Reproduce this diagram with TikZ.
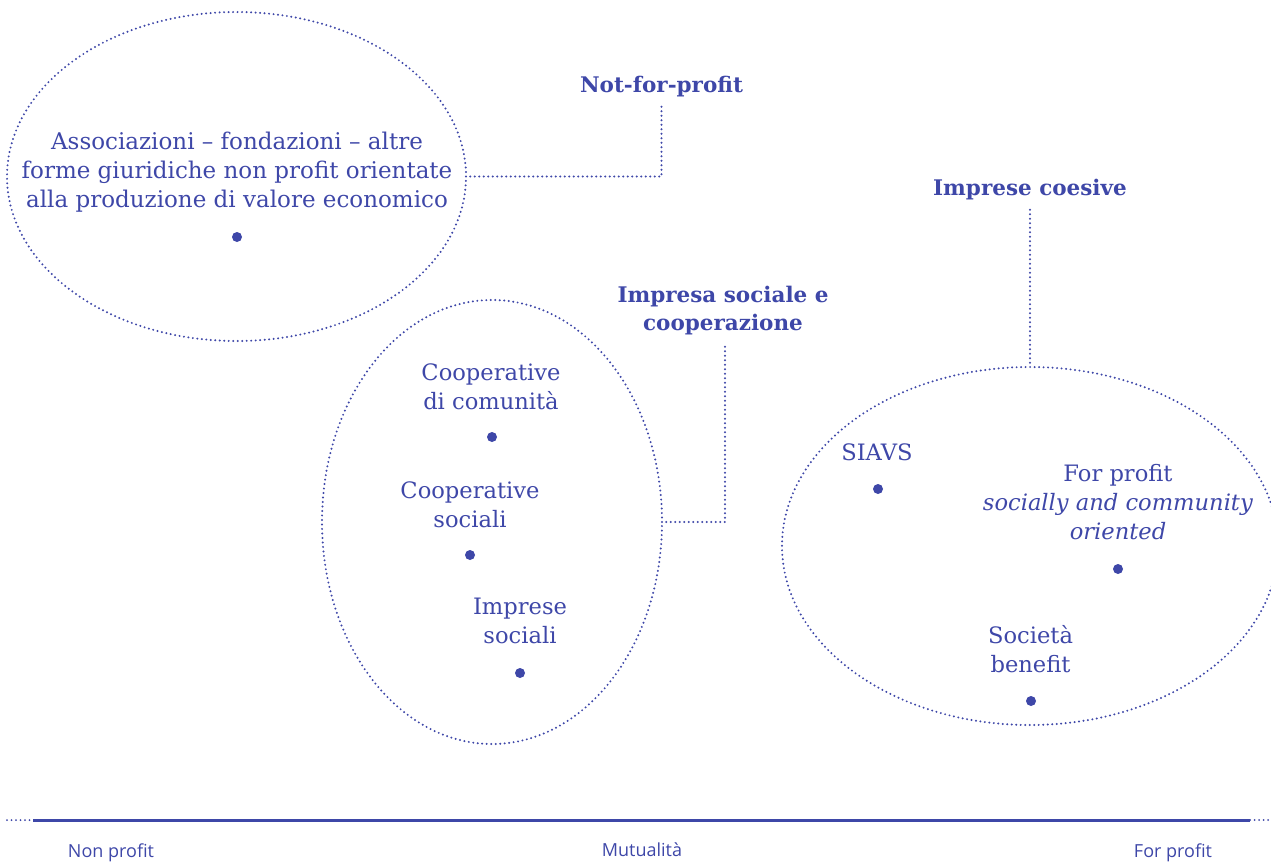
\documentclass[tikz,border=0pt]{standalone}
\usepackage{fontspec}
\setmainfont{DejaVu Serif}
\setsansfont{Open Sans}
\usetikzlibrary{shapes.geometric}
\definecolor{ink}{RGB}{62,71,168}
\begin{document}
\begin{tikzpicture}[x=1pt,y=-1pt,
  dotline/.style={draw=ink, line width=2.2pt, dash pattern=on 0pt off 4.5pt, line cap=round},
  blob/.style={ellipse, dotline, inner sep=0pt, outer sep=0pt},
  txt/.style={text=ink, font=\fontsize{22.6}{29}\selectfont, align=center, inner sep=0pt, anchor=base},
  head/.style={txt, font=\fontsize{21.5}{28}\selectfont\bfseries},
  axislbl/.style={text=ink, font=\sffamily\fontsize{18}{22}\selectfont, inner sep=0pt, anchor=base},
  pt/.style={circle, fill=ink, inner sep=0pt, minimum size=10pt}]
\useasboundingbox (0,0) rectangle (1271,862);
\clip (0,0) rectangle (1271,862);

% ellipses
\node[blob, minimum width=459pt, minimum height=329pt] (e1) at (236.5,176.5) {};
\node[blob, minimum width=340pt, minimum height=444pt] (e2) at (492,522) {};
\node[blob, minimum width=496pt, minimum height=358pt] (e3) at (1030,546) {};

% texts and points (base anchor = baseline of the last line)
\node[txt, font=\fontsize{23}{29}\selectfont] (t1) at (237,207) {Associazioni – fondazioni – altre\\forme giuridiche non profit orientate\\alla produzione di valore economico};
\node[pt] (d1) at (237,237) {};

\node[txt] (t2) at (491,409) {Cooperative\\di comunità};
\node[pt] (d2) at (492,437) {};
\node[txt] (t3) at (470,527) {Cooperative\\sociali};
\node[pt] (d3) at (470,555) {};
\node[txt] (t4) at (520,643) {Imprese\\sociali};
\node[pt] (d4) at (520,673) {};

\node[txt] (t5) at (877,460) {SIAVS};
\node[pt] (d5) at (878,489) {};
\node[txt] (t6) at (1118,539) {For profit\\\textit{socially and community}\\\textit{oriented}};
\node[pt] (d6) at (1118,569) {};
\node[txt] (t7) at (1030.5,672) {Società\\benefit};
\node[pt] (d7) at (1031,701) {};

% headings
\node[head] (h1) at (661.5,92) {Not-for-profit};
\node[head] (h2) at (723,330) {Impresa sociale e\\cooperazione};
\node[head] (h3) at (1030,195) {Imprese coesive};

% connectors
\draw[dotline] ([yshift=-10pt]h1.south) |- ([xshift=4pt]e1.east);
\draw[dotline] ([xshift=2pt,yshift=-12pt]h2.south) |- ([xshift=2pt]e2.east);
\draw[dotline] ([yshift=-10pt]h3.south) -- (e3.north);

% axis
\coordinate (a0) at (7,820);
\coordinate (a1) at (33,820);
\coordinate (a2) at (1250,820);
\coordinate (a3) at (1270,820);
\draw[ink, line width=3pt] (a1) -- (a2);
\draw[dotline, line width=2pt] (a0) -- (a1);
\draw[dotline, line width=2pt] (a2) -- (a3);
\node[axislbl] (l1) at (111,857) {Non profit};
\node[axislbl] (l2) at (642,856) {Mutualità};
\node[axislbl] (l3) at (1173,857) {For profit};
\end{tikzpicture}
\end{document}
